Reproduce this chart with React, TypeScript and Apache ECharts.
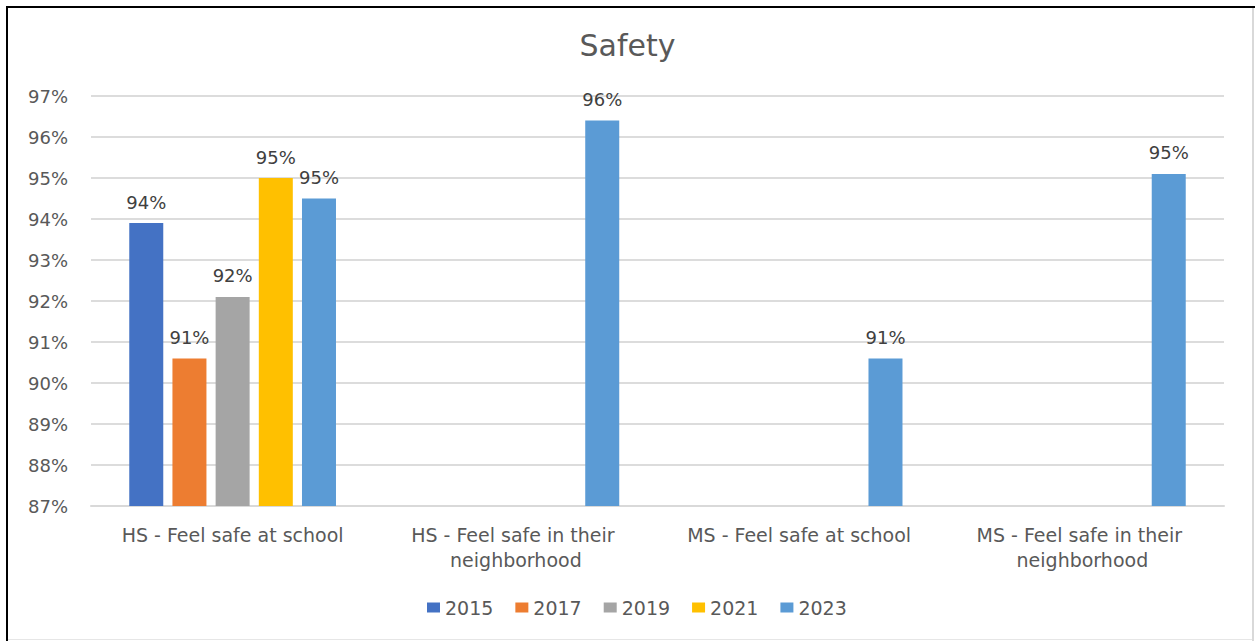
import React, { useEffect, useRef } from "react";
import * as echarts from "echarts";

const categories = [
  "HS - Feel safe at school",
  "HS - Feel safe in their neighborhood",
  "MS - Feel safe at school",
  "MS - Feel safe in their neighborhood",
];
const seriesNames = ["2015", "2017", "2019", "2021", "2023"];
const values2015 = [93.9, null, null, null];
const values2017 = [90.6, null, null, null];
const values2019 = [92.1, null, null, null];
const values2021 = [95.0, null, null, null];
const values2023 = [94.5, 96.4, 90.6, 95.1];
const colors = ["#4472C4", "#ED7D31", "#A5A5A5", "#FFC000", "#5B9BD5"];
const yMin = 87;
const yMax = 97;

const FONT = "DejaVu Sans";

export default function App() {
  const ref = useRef<HTMLDivElement>(null);
  useEffect(() => {
    if (!ref.current) return;
    const chart = echarts.init(ref.current, undefined, { renderer: "svg" });
    const allValues = [values2015, values2017, values2019, values2021, values2023];
    chart.setOption({
      animation: false,
      backgroundColor: "#ffffff",
      title: {
        text: "Safety",
        left: "center",
        top: 25,
        textStyle: { fontFamily: FONT, fontSize: 30, fontWeight: "normal", color: "#595959" },
      },
      legend: {
        data: seriesNames,
        left: 422,
        top: 593,
        icon: "rect",
        itemWidth: 13,
        itemHeight: 10,
        itemGap: 22,
        textStyle: { fontFamily: FONT, fontSize: 19, color: "#595959" },
      },
      grid: { left: 91, right: 31, top: 96, bottom: 135, containLabel: false, outerBoundsMode: "none" },
      xAxis: {
        type: "category",
        data: categories,
        axisLine: { lineStyle: { color: "#d9d9d9", width: 2 } },
        axisTick: { show: false },
        axisLabel: {
          fontFamily: FONT,
          fontSize: 19,
          color: "#595959",
          margin: 16,
          lineHeight: 25,
          width: 270,
          overflow: "break",
          interval: 0,
        },
      },
      yAxis: {
        type: "value",
        min: yMin,
        max: yMax,
        interval: 1,
        axisLine: { show: false },
        axisTick: { show: false },
        splitLine: { lineStyle: { color: "#dcdcdc", width: 2 } },
        axisLabel: {
          fontFamily: FONT,
          fontSize: 18,
          color: "#595959",
          margin: 23,
          formatter: "{value}%",
        },
      },
      series: seriesNames.map((name, i) => ({
        name,
        type: "bar",
        data: allValues[i],
        barWidth: 34,
        barGap: "27%",
        itemStyle: { color: colors[i] },
        label: {
          show: true,
          position: "top",
          distance: 12,
          fontFamily: FONT,
          fontSize: 18,
          color: "#404040",
          formatter: (p: any) => Math.round(p.value) + "%",
        },
      })),
      graphic: [
        { type: "rect", shape: { x: 6, y: 6, width: 1249, height: 2 }, style: { fill: "#000" }, silent: true },
        { type: "rect", shape: { x: 6, y: 6, width: 2, height: 635 }, style: { fill: "#000" }, silent: true },
        { type: "rect", shape: { x: 1252, y: 8, width: 2, height: 633 }, style: { fill: "#d9d9d9" }, silent: true },
        { type: "rect", shape: { x: 8, y: 639, width: 1244, height: 1 }, style: { fill: "#e6e6e6" }, silent: true },
      ],
    });
    return () => chart.dispose();
  }, []);
  return (
    <div style={{ position: "absolute", left: 0, top: 0, width: 1255, height: 641, background: "#fff" }}>
      <div ref={ref} style={{ width: 1255, height: 641 }} />
    </div>
  );
}
